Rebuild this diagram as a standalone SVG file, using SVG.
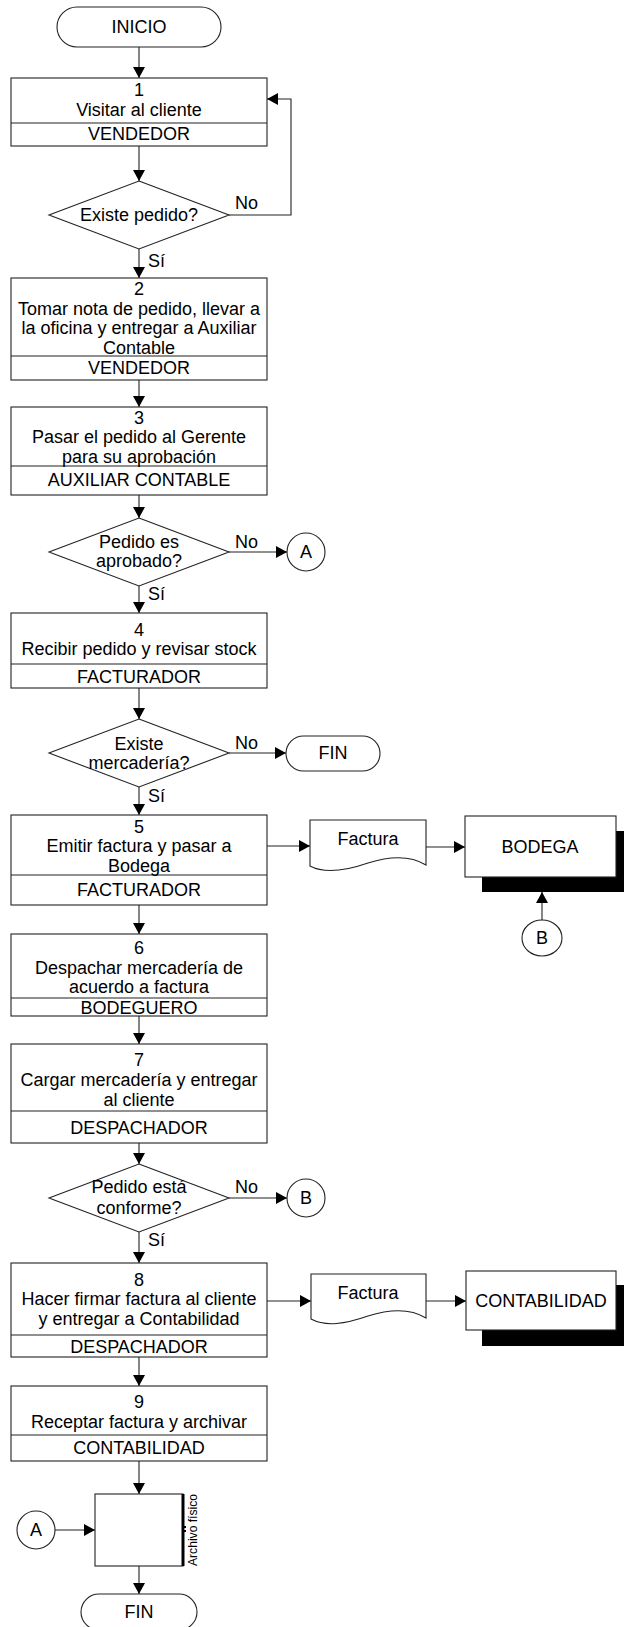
<svg xmlns="http://www.w3.org/2000/svg" width="624" height="1627" viewBox="0 0 624 1627">
  <defs>
    <marker id="ah" viewBox="0 0 12 12" refX="11" refY="6" markerWidth="12" markerHeight="12" markerUnits="userSpaceOnUse" orient="auto">
      <path d="M0,0 L11,6 L0,12 z" fill="#000"/>
    </marker>
    <style>
      .shape { fill: #fff; stroke: #222; stroke-width: 1.1; }
      .div { stroke: #222; stroke-width: 1.1; }
      .shadow { fill: #000; }
      .conn { fill: none; stroke: #222; stroke-width: 1.1; marker-end: url(#ah); }
      text { font-family: "Liberation Sans", Arial, sans-serif; font-size: 18px; fill: #000; }
      .c { text-anchor: middle; }
      .small { font-size: 12px; }
    </style>
  </defs>

  <!-- Connectors -->
  <g id="connectors">
    <path class="conn" d="M139,47 V78"/>
    <path class="conn" d="M139,146 V181"/>
    <path class="conn" d="M229,215 H291 V99 H267"/>
    <path class="conn" d="M139,249 V278"/>
    <path class="conn" d="M139,380 V407"/>
    <path class="conn" d="M139,495 V518"/>
    <path class="conn" d="M229,552 H287"/>
    <path class="conn" d="M139,586 V613"/>
    <path class="conn" d="M139,688 V719"/>
    <path class="conn" d="M229,753 H286"/>
    <path class="conn" d="M139,787 V815"/>
    <path class="conn" d="M267,846 H310"/>
    <path class="conn" d="M426,847 H465"/>
    <path class="conn" d="M542,920 V892"/>
    <path class="conn" d="M139,905 V934"/>
    <path class="conn" d="M139,1016 V1044"/>
    <path class="conn" d="M139,1143 V1164"/>
    <path class="conn" d="M229,1198 H287"/>
    <path class="conn" d="M139,1232 V1263"/>
    <path class="conn" d="M267,1301 H311"/>
    <path class="conn" d="M426,1301 H466"/>
    <path class="conn" d="M139,1357 V1386"/>
    <path class="conn" d="M139,1461 V1494"/>
    <path class="conn" d="M55,1530 H95"/>
    <path class="conn" d="M139,1566 V1594"/>
    <!-- branch labels -->
    <text x="235" y="209">No</text>
    <text x="148" y="267">Sí</text>
    <text x="235" y="548">No</text>
    <text x="148" y="600">Sí</text>
    <text x="235" y="749">No</text>
    <text x="148" y="802">Sí</text>
    <text x="235" y="1193">No</text>
    <text x="148" y="1246">Sí</text>
  </g>

  <g id="inicio">
    <rect class="shape" x="57" y="7" width="164" height="40" rx="20"/>
    <text class="c" x="139" y="33">INICIO</text>
  </g>

  <g id="paso1">
    <rect class="shape" x="11" y="78" width="256" height="68"/>
    <line class="div" x1="11" y1="123" x2="267" y2="123"/>
    <text class="c" x="139" y="96">1</text>
    <text class="c" x="139" y="116">Visitar al cliente</text>
    <text class="c" x="139" y="140">VENDEDOR</text>
  </g>

  <g id="dec1">
    <polygon class="shape" points="139,181 229,215 139,249 49,215"/>
    <text class="c" x="139" y="221">Existe pedido?</text>
  </g>

  <g id="paso2">
    <rect class="shape" x="11" y="278" width="256" height="102"/>
    <line class="div" x1="11" y1="356" x2="267" y2="356"/>
    <text class="c" x="139" y="295">2</text>
    <text class="c" x="139" y="315">Tomar nota de pedido, llevar a</text>
    <text class="c" x="139" y="334">la oficina y entregar a Auxiliar</text>
    <text class="c" x="139" y="354">Contable</text>
    <text class="c" x="139" y="374">VENDEDOR</text>
  </g>

  <g id="paso3">
    <rect class="shape" x="11" y="407" width="256" height="88"/>
    <line class="div" x1="11" y1="466" x2="267" y2="466"/>
    <text class="c" x="139" y="424">3</text>
    <text class="c" x="139" y="443">Pasar el pedido al Gerente</text>
    <text class="c" x="139" y="463">para su aprobación</text>
    <text class="c" x="139" y="486">AUXILIAR CONTABLE</text>
  </g>

  <g id="dec2">
    <polygon class="shape" points="139,518 229,552 139,586 49,552"/>
    <text class="c" x="139" y="548">Pedido es</text>
    <text class="c" x="139" y="567">aprobado?</text>
  </g>

  <g id="conA1">
    <circle class="shape" cx="306" cy="552" r="19"/>
    <text class="c" x="306" y="558">A</text>
  </g>

  <g id="paso4">
    <rect class="shape" x="11" y="613" width="256" height="75"/>
    <line class="div" x1="11" y1="664" x2="267" y2="664"/>
    <text class="c" x="139" y="636">4</text>
    <text class="c" x="139" y="655">Recibir pedido y revisar stock</text>
    <text class="c" x="139" y="683">FACTURADOR</text>
  </g>

  <g id="dec3">
    <polygon class="shape" points="139,719 229,753 139,787 49,753"/>
    <text class="c" x="139" y="750">Existe</text>
    <text class="c" x="139" y="769">mercadería?</text>
  </g>

  <g id="fin1">
    <rect class="shape" x="286" y="736" width="94" height="35" rx="17.5"/>
    <text class="c" x="333" y="759">FIN</text>
  </g>

  <g id="paso5">
    <rect class="shape" x="11" y="815" width="256" height="90"/>
    <line class="div" x1="11" y1="875" x2="267" y2="875"/>
    <text class="c" x="139" y="833">5</text>
    <text class="c" x="139" y="852">Emitir factura y pasar a</text>
    <text class="c" x="139" y="872">Bodega</text>
    <text class="c" x="139" y="896">FACTURADOR</text>
  </g>

  <g id="doc1">
    <path class="shape" d="M310,820 H426 V865 C410,855 390,856 368,863 C345,871 325,874 310,866 Z"/>
    <text class="c" x="368" y="845">Factura</text>
  </g>

  <g id="bodega">
    <rect class="shadow" x="482" y="831" width="160" height="61"/>
    <rect class="shape" x="465" y="816" width="151" height="61"/>
    <text class="c" x="540" y="853">BODEGA</text>
  </g>

  <g id="conB2">
    <ellipse class="shape" cx="542" cy="938" rx="20" ry="18"/>
    <text class="c" x="542" y="944">B</text>
  </g>

  <g id="paso6">
    <rect class="shape" x="11" y="934" width="256" height="82"/>
    <line class="div" x1="11" y1="998" x2="267" y2="998"/>
    <text class="c" x="139" y="954">6</text>
    <text class="c" x="139" y="974">Despachar mercadería de</text>
    <text class="c" x="139" y="993">acuerdo a factura</text>
    <text class="c" x="139" y="1014">BODEGUERO</text>
  </g>

  <g id="paso7">
    <rect class="shape" x="11" y="1044" width="256" height="99"/>
    <line class="div" x1="11" y1="1111" x2="267" y2="1111"/>
    <text class="c" x="139" y="1066">7</text>
    <text class="c" x="139" y="1086">Cargar mercadería y entregar</text>
    <text class="c" x="139" y="1106">al cliente</text>
    <text class="c" x="139" y="1134">DESPACHADOR</text>
  </g>

  <g id="dec4">
    <polygon class="shape" points="139,1164 229,1198 139,1232 49,1198"/>
    <text class="c" x="139" y="1193">Pedido está</text>
    <text class="c" x="139" y="1214">conforme?</text>
  </g>

  <g id="conB1">
    <circle class="shape" cx="306" cy="1198" r="19"/>
    <text class="c" x="306" y="1204">B</text>
  </g>

  <g id="paso8">
    <rect class="shape" x="11" y="1263" width="256" height="94"/>
    <line class="div" x1="11" y1="1335" x2="267" y2="1335"/>
    <text class="c" x="139" y="1286">8</text>
    <text class="c" x="139" y="1305">Hacer firmar factura al cliente</text>
    <text class="c" x="139" y="1325">y entregar a Contabilidad</text>
    <text class="c" x="139" y="1353">DESPACHADOR</text>
  </g>

  <g id="doc2">
    <path class="shape" d="M311,1274 H426 V1318 C410,1308 390,1309 368,1316 C345,1324 326,1327 311,1319 Z"/>
    <text class="c" x="368" y="1299">Factura</text>
  </g>

  <g id="contabilidad">
    <rect class="shadow" x="482" y="1285" width="160" height="61"/>
    <rect class="shape" x="466" y="1271" width="150" height="59"/>
    <text class="c" x="541" y="1307">CONTABILIDAD</text>
  </g>

  <g id="paso9">
    <rect class="shape" x="11" y="1386" width="256" height="75"/>
    <line class="div" x1="11" y1="1435" x2="267" y2="1435"/>
    <text class="c" x="139" y="1408">9</text>
    <text class="c" x="139" y="1428">Receptar factura y archivar</text>
    <text class="c" x="139" y="1454">CONTABILIDAD</text>
  </g>

  <g id="conA2">
    <circle class="shape" cx="36" cy="1530" r="19"/>
    <text class="c" x="36" y="1536">A</text>
  </g>

  <g id="archivo">
    <rect class="shape" x="95" y="1494" width="88" height="72"/>
    <line x1="183" y1="1494" x2="183" y2="1566" stroke="#000" stroke-width="3"/>
    <rect x="184" y="1526" width="2" height="2" fill="#000"/>
    <rect x="184" y="1530" width="2" height="2" fill="#000"/>
    <text class="c small" transform="translate(197,1530) rotate(-90)" x="0" y="0" textLength="72" lengthAdjust="spacingAndGlyphs">Archivo físico</text>
  </g>

  <g id="fin2">
    <rect class="shape" x="81" y="1594" width="116" height="36" rx="18"/>
    <text class="c" x="139" y="1618">FIN</text>
  </g>
</svg>
